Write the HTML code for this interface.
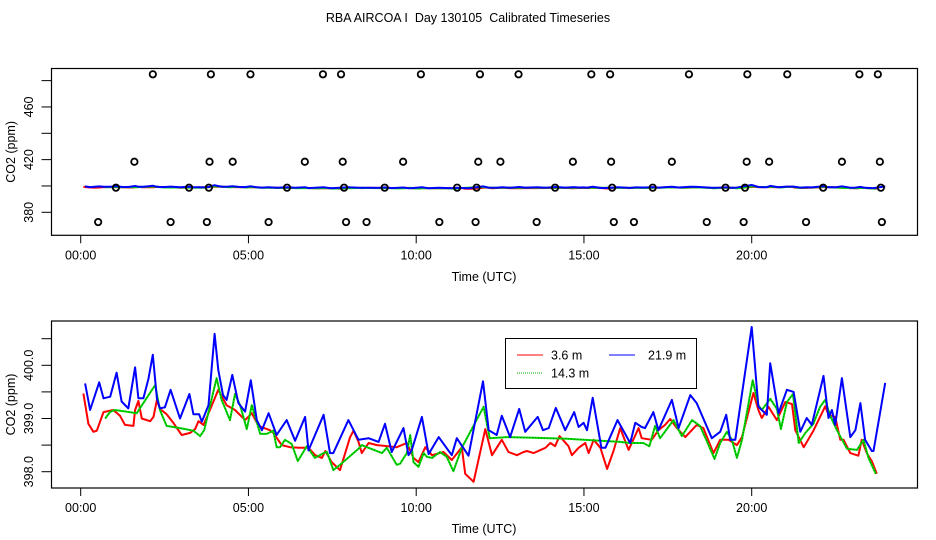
<!DOCTYPE html>
<html><head><meta charset="utf-8"><style>
body{margin:0;background:#fff}
svg{display:block;font-family:"Liberation Sans",sans-serif}
</style></head><body>
<svg id="c" width="936" height="540" viewBox="0 0 936 540">
<text x="468" y="22" text-anchor="middle" font-size="12.5" style="white-space:pre">RBA AIRCOA I  Day 130105  Calibrated Timeseries</text>
<g id="top"></g>
<g id="bot"></g>
</svg>
<script>
const redHours=[0.08,0.23,0.38,0.48,0.68,0.97,1.17,1.32,1.57,1.62,1.72,1.82,2.07,2.17,2.27,2.36,2.56,2.76,3.01,3.26,3.41,3.51,3.66,3.85,4.1,4.35,4.6,4.9,5.1,5.3,5.64,5.74,5.99,6.24,6.54,6.79,6.99,7.19,7.29,7.48,7.73,8.03,8.13,8.28,8.38,8.58,8.83,9.42,9.72,9.92,10.07,10.27,10.47,10.81,11.06,11.36,11.46,11.71,12.06,12.26,12.55,12.75,13.0,13.2,13.3,13.5,13.85,14.0,14.14,14.27,14.54,14.64,14.84,15.04,15.14,15.29,15.49,15.69,15.88,16.08,16.33,16.63,16.72,17.02,17.22,17.42,17.57,17.77,18.02,18.36,18.56,18.86,19.06,19.31,19.56,19.71,20.05,20.2,20.3,20.5,20.75,21.0,21.2,21.3,21.55,21.84,22.19,22.29,22.49,22.64,22.74,22.94,23.18,23.28,23.43,23.58,23.73];
const redValues=[399.47,398.9,398.75,398.77,399.12,399.16,399.05,398.88,398.86,399.16,399.33,399.0,398.95,399.03,399.35,399.18,399.08,398.92,398.69,398.73,398.8,398.95,398.88,399.16,399.54,399.25,399.16,398.97,399.1,398.86,398.78,398.73,398.5,398.46,398.45,398.45,398.31,398.26,398.39,398.18,398.03,398.65,398.77,398.56,398.35,398.54,398.5,398.46,398.54,398.26,398.18,398.46,398.31,398.37,398.22,398.46,397.96,397.81,398.8,398.31,398.6,398.37,398.31,398.37,398.39,398.35,398.45,398.54,398.48,398.67,398.48,398.31,398.45,398.54,398.35,398.6,398.45,398.05,398.39,398.82,398.41,398.82,398.63,398.6,398.78,398.88,398.99,398.82,398.65,398.88,398.82,398.35,398.6,398.6,398.5,398.65,399.48,399.16,399.01,399.22,398.97,399.31,399.27,398.78,398.46,398.77,399.23,399.07,399.03,398.6,398.6,398.35,398.3,398.6,398.35,398.2,397.96];
const greenHours=[0.73,0.87,1.02,1.67,1.97,2.22,2.36,2.56,2.96,3.36,3.56,3.68,4.05,4.2,4.45,4.6,4.75,4.95,5.1,5.35,5.54,5.74,5.84,5.94,6.09,6.29,6.47,6.74,6.98,7.24,7.34,7.53,7.73,8.28,8.38,8.53,8.98,9.12,9.42,9.52,9.72,9.82,9.92,10.07,10.22,10.32,10.47,10.71,10.91,11.11,11.36,12.01,12.19,12.7,13.5,14.49,15.49,16.08,16.38,16.77,16.95,17.12,17.27,17.67,17.92,18.22,18.46,18.66,18.89,19.06,19.26,19.41,19.56,19.71,20.03,20.2,20.3,20.55,20.75,20.87,21.05,21.23,21.4,21.6,21.84,22.04,22.19,22.34,22.54,22.84,23.14,23.33,23.48,23.7];
const greenValues=[399.0,399.12,399.16,399.1,399.39,399.63,399.16,398.86,398.82,398.77,398.67,398.78,399.76,399.35,398.97,399.46,399.25,398.8,399.25,398.71,398.71,398.77,398.46,398.46,398.6,398.52,398.2,398.48,398.26,398.35,398.37,398.03,398.13,398.43,398.5,398.46,398.35,398.45,398.13,398.15,398.35,398.69,398.18,398.09,398.35,398.28,398.26,398.37,398.28,398.01,398.45,399.22,398.63,398.65,398.64,398.62,398.58,398.56,398.54,398.54,398.48,398.86,398.63,398.97,398.67,398.97,398.86,398.58,398.24,398.54,398.75,398.6,398.26,398.6,399.72,399.25,399.16,399.37,399.18,398.8,399.31,399.46,398.54,398.73,398.9,399.22,399.35,399.05,398.78,398.43,398.41,398.6,398.26,397.96];
const blueHours=[0.13,0.28,0.55,0.68,0.88,1.07,1.22,1.42,1.62,1.72,1.87,2.02,2.15,2.27,2.36,2.51,2.68,2.96,3.24,3.36,3.53,3.61,3.81,3.99,4.1,4.24,4.35,4.52,4.7,4.9,5.07,5.25,5.4,5.6,5.84,6.14,6.39,6.69,6.79,7.24,7.43,7.53,7.98,8.28,8.58,8.88,9.07,9.27,9.62,9.77,9.87,10.17,10.37,10.67,11.06,11.21,11.56,11.99,12.16,12.4,12.55,12.8,13.07,13.25,13.62,13.78,13.95,14.16,14.44,14.71,14.84,14.99,15.09,15.26,15.52,15.64,16.0,16.38,16.53,16.72,16.82,17.07,17.22,17.62,17.82,18.17,18.36,18.81,19.06,19.24,19.36,19.51,20.0,20.2,20.45,20.55,20.8,21.05,21.25,21.45,21.64,21.79,22.14,22.29,22.39,22.49,22.69,22.94,23.09,23.24,23.38,23.58,23.63,23.98];
const blueValues=[399.66,399.16,399.68,399.38,399.41,399.86,399.32,399.19,399.96,399.38,399.38,399.75,400.2,399.38,399.19,399.21,399.54,399.0,399.46,399.08,399.08,398.94,399.25,400.59,399.91,399.44,399.35,399.82,399.29,399.13,399.72,398.97,398.78,399.1,398.69,398.97,398.58,399.03,398.4,399.07,398.35,398.35,398.97,398.6,398.63,398.56,398.9,398.37,398.82,398.31,398.41,399.03,398.33,398.65,398.31,398.63,398.3,399.7,398.78,398.69,399.05,398.65,399.18,398.75,399.03,398.78,398.82,399.2,398.78,399.12,398.84,398.92,398.78,399.39,398.45,398.45,398.97,398.54,398.92,398.84,398.82,399.12,398.78,399.35,398.82,399.44,399.29,398.63,398.75,399.07,398.6,398.6,400.72,399.22,399.07,400.04,399.1,399.54,399.5,398.75,399.01,398.88,399.8,399.01,399.16,398.88,399.76,398.65,398.78,399.29,398.6,398.39,398.39,399.67];
const flagHours=[2.15,3.88,5.06,7.22,7.76,10.14,11.90,13.05,15.22,15.78,18.13,19.87,21.06,23.21,23.76,
 1.60,3.84,4.53,6.68,7.81,9.61,11.85,12.51,14.67,15.81,17.62,19.85,20.52,22.69,23.82,
 1.05,3.23,3.82,6.15,7.85,9.06,11.22,11.80,14.14,15.84,17.05,19.22,19.80,22.13,23.85,
 0.52,2.68,3.76,5.60,7.91,8.52,10.69,11.77,13.59,15.89,16.49,18.66,19.76,21.62,23.88];
const flagValues=[484.8,484.8,484.8,484.8,484.8,484.8,484.8,484.8,484.8,484.8,484.8,484.8,484.8,484.8,484.8,
 418.4,418.4,418.4,418.4,418.4,418.4,418.4,418.4,418.4,418.4,418.4,418.4,418.4,418.4,418.4,
 398.7,398.7,398.7,398.7,398.7,398.7,398.7,398.7,398.7,398.7,398.7,398.7,398.7,398.7,398.7,
 372.6,372.6,372.6,372.6,372.6,372.6,372.6,372.6,372.6,372.6,372.6,372.6,372.6,372.6,372.6];
const xTicks=[0,5,10,15,20];
const xTickLabels=["00:00","05:00","10:00","15:00","20:00"];
const topYTicks=[380,400,420,440,460,480];
const topYLabels=["380","","420","","460",""];
const botYTicks=[398.0,398.5,399.0,399.5,400.0,400.5];
const botYLabels=["398.0","","399.0","","400.0",""];

const NS="http://www.w3.org/2000/svg";
function mk(p,t,a){const e=document.createElementNS(NS,t);for(const k in a)e.setAttribute(k,a[k]);p.appendChild(e);return e;}
const xs=h=>80.7+h*33.55;
const yT=v=>212.3-(v-380)*1.3167;
const yB=v=>471.7-(v-398)*53.2;

function panel(g,box,yfn,yt,yl,titleY){
  const r=mk(g,'rect',{x:51.5,y:box[0],width:866,height:box[1]-box[0],fill:'none',stroke:'#000','stroke-width':1.2});
  
  
  xTicks.forEach((t,i)=>{
    const x=xs(t);
    const l=mk(g,'line',{x1:x,x2:x,y1:box[1],y2:box[1]+8,stroke:'#000'});
    
    
    const tx=mk(g,'text',{x:x,y:box[1]+24,'text-anchor':'middle','font-size':12.5});
    tx.textContent=xTickLabels[i];
    
    
  });
  yt.forEach((t,i)=>{
    const y=yfn(t);
    const l=mk(g,'line',{x1:41.5,x2:51.5,y1:y,y2:y,stroke:'#000'});
    
    
    if(yl[i]){
      const tx=mk(g,'text',{x:0,y:0,'text-anchor':'middle','font-size':12.5,transform:`translate(33,${y}) rotate(-90)`});
      tx.textContent=yl[i];
      
      
    }
  });
  const xt=mk(g,'text',{x:484,y:titleY,'text-anchor':'middle','font-size':12.5});
  xt.textContent='Time (UTC)';
  
  
  const yt2=mk(g,'text',{x:0,y:0,'text-anchor':'middle','font-size':12.5,transform:`translate(15,${(box[0]+box[1])/2}) rotate(-90)`});
  yt2.textContent='CO2 (ppm)';
  
  
}
function series(g,hs,vs,yfn,color,name,dotted){
  const pts=hs.map((h,i)=>xs(h).toFixed(1)+','+yfn(vs[i]).toFixed(1)).join(' ');
  const p=mk(g,'polyline',{points:pts,fill:'none',stroke:color,'stroke-width':2,'stroke-linejoin':'round'});
  
  
  if(dotted){
    const d=mk(g,'polyline',{points:pts,fill:'none',stroke:'#000','stroke-width':0.8,'stroke-dasharray':'1 2',opacity:0.6});
    
    
  }
}
const topG=document.getElementById('top'), botG=document.getElementById('bot');
panel(topG,[68.5,235.3],yT,topYTicks,topYLabels,281);
series(topG,redHours,redValues,yT,'#ff0000','top-line-3-6m',false);
series(topG,greenHours,greenValues,yT,'#00dd00','top-line-14-3m',false);
series(topG,blueHours,blueValues,yT,'#0000ff','top-line-21-9m',false);
flagHours.forEach((h,i)=>{
  const c=mk(topG,'circle',{cx:xs(h),cy:yT(flagValues[i]),r:3.2,fill:'none',stroke:'#000','stroke-width':1.8});
  
  
});
panel(botG,[321,488],yB,botYTicks,botYLabels,533);
series(botG,redHours,redValues,yB,'#ff0000','line-3-6m',false);
series(botG,greenHours,greenValues,yB,'#00dd00','line-14-3m',true);
series(botG,blueHours,blueValues,yB,'#0000ff','line-21-9m',false);
</script>
<svg style="position:absolute;left:0;top:0" width="936" height="540">
<g font-family="Liberation Sans, sans-serif" font-size="12.5">
<rect x="505.5" y="338.5" width="191" height="50" fill="#fff" stroke="#000"/>
<line x1="517" x2="543" y1="355" y2="355" stroke="#ff0000"/>
<text x="551" y="359.5">3.6 m</text>
<line x1="517" x2="543" y1="373" y2="373" stroke="#00aa00" stroke-dasharray="1 1"/>
<text x="551" y="377.5">14.3 m</text>
<line x1="609" x2="635" y1="355" y2="355" stroke="#0000ff"/>
<text x="648" y="359.5">21.9 m</text>
</g></svg>
</body></html>
